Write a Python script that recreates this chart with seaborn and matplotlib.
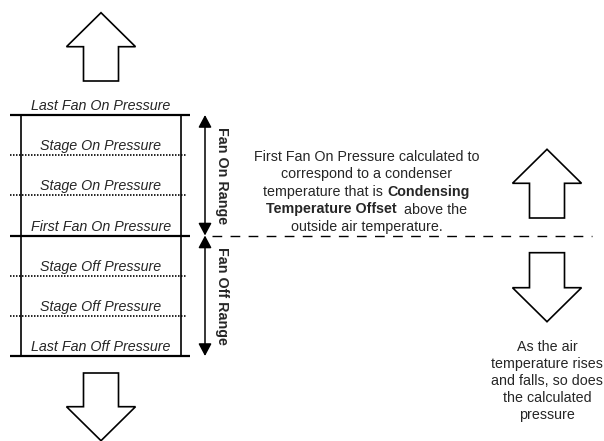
import matplotlib
matplotlib.use("Agg")
import matplotlib.pyplot as plt
import seaborn as sns
from matplotlib.patches import FancyArrow

# pressure levels, top to bottom
level_labels = [
    "Last Fan On Pressure",
    "Stage On Pressure",
    "Stage On Pressure",
    "First Fan On Pressure",
    "Stage Off Pressure",
    "Stage Off Pressure",
    "Last Fan Off Pressure",
]
level_kinds = ["solid", "dotted", "dotted", "solid", "dotted", "dotted", "solid"]
range_labels = ["Fan On Range", "Fan Off Range"]

# explanation text, (text, weight) pieces per line
note_lines = [
    [("First Fan On Pressure calculated to", "normal")],
    [("correspond to a condenser", "normal")],
    [("temperature that is ", "normal"), ("Condensing", "bold")],
    [("Temperature Offset", "bold"), ("  above the", "normal")],
    [("outside air temperature.", "normal")],
]
side_lines = ["As the air", "temperature rises", "and falls, so does",
              "the calculated", "pressure"]

sns.set_theme(style="white")
plt.rcParams["font.family"] = ["Liberation Sans", "DejaVu Sans"]
FS = 10.3

fig = plt.figure(figsize=(6.04, 4.41), dpi=100)
ax = fig.add_axes([0, 0, 1, 1])
ax.set_xlim(0, 604)
ax.set_ylim(441, 0)
ax.axis("off")

# level lines and labels
top, step = 115, 40.17
box_l, box_r = 21, 181
ys = [top + step * i for i in range(len(level_labels))]
for y, lab, kind in zip(ys, level_labels, level_kinds):
    if kind == "solid":
        ax.plot([10, 190], [y, y], color="black", lw=1.6, solid_capstyle="butt")
    else:
        ax.plot([10, 186], [y, y], color="black", lw=1.2, linestyle=(0, (0.9, 0.9)))
    ax.text(101, y - 9, lab, fontsize=FS, style="italic", ha="center", va="center")
ax.plot([box_l, box_l], [ys[0], ys[-1]], color="black", lw=1.2)
ax.plot([box_r, box_r], [ys[0], ys[-1]], color="black", lw=1.2)

# range arrows
mid = len(level_labels) // 2
for (y0, y1), lab in zip([(ys[0], ys[mid]), (ys[mid], ys[-1])], range_labels):
    ax.annotate("", xy=(205, y0), xytext=(205, y1),
                arrowprops=dict(arrowstyle="<|-|>,head_length=0.75,head_width=0.4",
                                color="black", lw=1.1, shrinkA=0, shrinkB=0,
                                mutation_scale=10))
    ax.text(222, (y0 + y1) / 2, lab, fontsize=FS, fontweight="bold",
            rotation=270, ha="center", va="center")

# dashed reference line
ax.plot([212, 592], [ys[mid], ys[mid]], color="black", lw=1.0, linestyle=(0, (7, 6)))

# mixed weight paragraph, centred line by line
renderer = fig.canvas.get_renderer()
cx, y0, dy = 366.5, 156.7, 17.6
for i, pieces in enumerate(note_lines):
    texts = [ax.text(0, y0 + dy * i, s, fontsize=FS, fontweight=w, va="center", ha="left")
             for s, w in pieces]
    widths = [t.get_window_extent(renderer).width for t in texts]
    x = cx - sum(widths) / 2
    for t, w in zip(texts, widths):
        t.set_x(x)
        x += w

for i, s in enumerate(side_lines):
    ax.text(547, 346.7 + 17.2 * i, s, fontsize=FS, ha="center", va="center")

# block arrows (base x, base y, length)
def block_arrow(x, y, dy):
    ax.add_patch(FancyArrow(x, y, 0, dy, width=35, head_width=69, head_length=34,
                            length_includes_head=True, facecolor="white",
                            edgecolor="black", lw=1.2, joinstyle="miter"))

block_arrow(101, 81, -68.3)
block_arrow(101, 373, 67.7)
block_arrow(547, 218, -68.7)
block_arrow(547, 252.7, 69)

fig.savefig("out.png", dpi=100)
